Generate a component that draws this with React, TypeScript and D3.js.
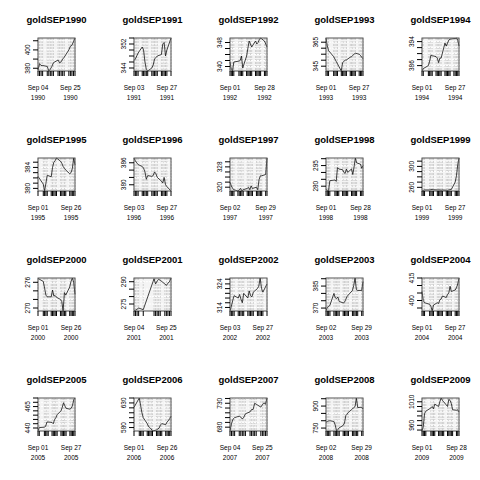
import React, { useEffect, useRef } from "react";
import * as d3 from "d3";

// one panel per September
const years = [1990, 1991, 1992, 1993, 1994, 1995, 1996, 1997, 1998, 1999, 2000, 2001, 2002, 2003, 2004, 2005, 2006, 2007, 2008, 2009];

// US market closures falling on weekdays in September
const closedDays = [
  "1990-09-03", "1991-09-02", "1992-09-07", "1993-09-06", "1994-09-05",
  "1995-09-04", "1996-09-02", "1997-09-01", "1998-09-07", "1999-09-06",
  "2000-09-04", "2001-09-03", "2001-09-11", "2001-09-12", "2001-09-13",
  "2001-09-14", "2002-09-02", "2003-09-01", "2004-09-06", "2005-09-05",
  "2006-09-04", "2007-09-03", "2008-09-01", "2009-09-07",
];

const gold1990 = [378, 385, 383, 383, 382, 377, 379, 382, 386, 389, 386, 387, 390, 392, 400, 404, 405, 409, 413];
const gold1991 = [346.5, 347, 348, 349, 351, 350, 346, 343.5, 343, 344, 345, 347, 347.5, 348, 348.5, 352, 352.5, 348, 350, 354];
const gold1992 = [341.5, 339, 338.5, 341.5, 341.8, 342, 343.5, 339.5, 343.5, 346, 348.5, 347.5, 346.5, 348.5, 347.5, 348, 349, 349.5, 348.5, 347.5, 346.5];
const gold1993 = [368.5, 362, 358, 353, 351, 349, 347, 341, 348, 349, 350, 350.2, 352.5, 353, 354, 355, 355.8, 355, 354, 352.5, 351.2];
const gold1994 = [384.2, 385, 386, 387.5, 389.5, 389.3, 389, 388.5, 387, 388.5, 388.5, 393.5, 392.5, 393.5, 394.5, 394.8, 395, 395, 395.2, 394.5, 392.5];
const gold1995 = [382.3, 380.8, 379.5, 381, 382.5, 382.2, 384, 385, 385.3, 385.8, 385.2, 384.8, 384.2, 383.8, 383.5, 382.8, 383, 383.8, 385.8, 384.5];
const gold1996 = [387.3, 386.5, 386, 385.5, 385, 384.5, 383.5, 381.5, 382.5, 382.3, 382.5, 383.5, 383, 382, 381, 380.5, 382, 380, 379.5, 378.3];
const gold1997 = [322, 320.5, 319.5, 319, 318.5, 319, 319.5, 318.5, 319, 319.5, 320, 319, 320.5, 319.5, 320, 319, 323, 324.5, 324.5, 325, 331.5];
const gold1998 = [277.5, 277, 276.5, 284, 284.5, 283.5, 293.5, 292.5, 292, 290, 289.3, 292.5, 290, 292.5, 288.5, 294, 300.5, 297, 296, 293, 295];
const gold1999 = [253, 254, 255, 255, 255.5, 256, 255.5, 255, 255, 255, 254.5, 255, 254.5, 254, 255, 255.5, 256, 270, 282, 303, 316];
const gold2000 = [276.9, 276.2, 274.6, 273, 272.6, 272.6, 274.2, 272.8, 272.9, 272.5, 272, 271.5, 269.3, 273.6, 273, 274.9, 276.2, 277, 276, 273.2];
const gold2001 = [270.3, 270.8, 271.5, 272.3, 271.2, 292, 288.5, 290.5, 291.5, 291, 288.5, 287.5, 289, 290, 292.5];
const gold2002 = [312.5, 314.5, 317, 319, 318, 319.5, 317.5, 316, 320, 318, 321, 319, 318.5, 320.5, 322, 323, 326.5, 322, 320.5, 324];
const gold2003 = [368, 370.5, 371, 372, 380, 377, 376.5, 377.5, 374.5, 373.5, 374, 376, 378, 379, 382, 385.5, 390.5, 382.5, 382, 382, 388];
const gold2004 = [406, 400, 398.5, 397.5, 396, 393, 397, 398.5, 398, 400.5, 401, 403, 402, 404, 405, 409.5, 406, 407, 408.5, 411, 415];
const gold2005 = [436.5, 440.5, 441, 442, 447, 447, 446.5, 445, 450, 452, 455.5, 460, 464, 469.5, 466, 463, 462, 463, 466, 473, 475];
const gold2006 = [621, 640, 625, 610, 600, 588, 582, 580, 577, 573, 575, 577, 579, 585, 588, 586, 591, 594, 598, 603];
const gold2007 = [672, 688, 697, 700, 703, 701, 697, 701, 708, 712, 717, 717, 730, 728, 722, 727, 731, 728, 741];
const gold2008 = [790, 795, 798, 800, 795, 770, 730, 740, 752, 768, 785, 835, 845, 858, 880, 890, 897, 955, 890, 892, 880];
const gold2009 = [948, 957, 985, 990, 997, 1000, 995, 1005, 1000, 1010, 1018, 1013, 1010, 1000, 1015, 1013, 1006, 993, 992, 993, 988];

const series = [
  gold1990, gold1991, gold1992, gold1993, gold1994, gold1995, gold1996,
  gold1997, gold1998, gold1999, gold2000, gold2001, gold2002, gold2003,
  gold2004, gold2005, gold2006, gold2007, gold2008, gold2009,
];

const yTickSteps = [10, 2, 2, 5, 2, 1, 2, 2, 5, 10, 2, 5, 2, 5, 5, 5, 10, 10, 50, 10];
const yTickLabels = [
  [380, 400], [344, 352], [340, 348], [345, 365], [386, 394],
  [380, 384], [380, 386], [320, 328], [280, 295], [260, 300],
  [270, 276], [275, 290], [314, 324], [370, 385], [400, 415],
  [440, 465], [580, 630], [680, 730], [750, 900], [960, 1010],
];

const font = "'Liberation Sans', Arial, Helvetica, sans-serif";
const fmtDay = d3.utcFormat("%Y-%m-%d");

function tradingDays(year) {
  return d3
    .utcDays(new Date(Date.UTC(year, 8, 1)), new Date(Date.UTC(year, 9, 1)))
    .filter((d) => d.getUTCDay() !== 0 && d.getUTCDay() !== 6)
    .filter((d) => !closedDays.includes(fmtDay(d)));
}

export default function App() {
  const svgRef = useRef(null);

  useEffect(() => {
    const svg = d3.select(svgRef.current);
    svg.selectAll("*").remove();

    const w = 37;
    const h = 33;

    years.forEach((year, i) => {
      const col = i % 5;
      const row = Math.floor(i / 5);
      const left = 38 + col * 96;
      const top = 38 + row * 120;
      const values = series[i];
      const dates = tradingDays(year);
      const data = dates.map((d, k) => ({ date: d, value: values[k] }));

      const x = d3
        .scaleUtc()
        .domain([dates[0], dates[dates.length - 1]])
        .range([left, left + w]);
      const y = d3
        .scaleLinear()
        .domain(d3.extent(values))
        .range([top + h, top]);

      const step = yTickSteps[i];
      const [lo, hi] = y.domain();
      const yTicks = d3.range(Math.ceil(lo / step) * step, hi + 1e-9, step);

      const g = svg.append("g");

      g.append("rect")
        .attr("x", left)
        .attr("y", top)
        .attr("width", w)
        .attr("height", h)
        .attr("fill", "#f4f4f4");

      // dotted grid: one vertical per trading day, horizontals at y ticks
      g.selectAll(".vgrid")
        .data(dates)
        .enter()
        .append("line")
        .attr("x1", (d) => x(d))
        .attr("x2", (d) => x(d))
        .attr("y1", top)
        .attr("y2", top + h)
        .attr("stroke", "#cfcfcf")
        .attr("stroke-dasharray", "2,1");

      g.selectAll(".hgrid")
        .data(yTicks)
        .enter()
        .append("line")
        .attr("x1", left)
        .attr("x2", left + w)
        .attr("y1", (v) => y(v))
        .attr("y2", (v) => y(v))
        .attr("stroke", "#ffffff")
        .attr("stroke-dasharray", "2,1");

      g.append("path")
        .datum(data)
        .attr("fill", "none")
        .attr("stroke", "#111")
        .attr("stroke-width", 0.8)
        .attr(
          "d",
          d3
            .line()
            .x((d) => x(d.date))
            .y((d) => y(d.value))
        );

      g.append("rect")
        .attr("x", left)
        .attr("y", top)
        .attr("width", w)
        .attr("height", h)
        .attr("fill", "none")
        .attr("stroke", "#555")
        .attr("stroke-width", 1);

      // day ticks under the box
      g.selectAll(".xtick")
        .data(dates)
        .enter()
        .append("line")
        .attr("x1", (d) => x(d))
        .attr("x2", (d) => x(d))
        .attr("y1", top + h)
        .attr("y2", top + h + 5)
        .attr("stroke", "#000");

      g.selectAll(".ytick")
        .data(yTicks)
        .enter()
        .append("line")
        .attr("x1", left - 5)
        .attr("x2", left)
        .attr("y1", (v) => y(v))
        .attr("y2", (v) => y(v))
        .attr("stroke", "#000");

      g.selectAll(".ylab")
        .data(yTickLabels[i])
        .enter()
        .append("text")
        .attr("transform", (v) => `translate(${left - 8.5},${y(v)}) rotate(-90)`)
        .attr("text-anchor", "middle")
        .attr("font-family", font)
        .attr("font-size", 6.5)
        .text((v) => v);

      // date labels, dropped when they would crowd the previous one
      let lastX = -Infinity;
      dates.forEach((d) => {
        const px = x(d);
        if (px - lastX < 32.2) return;
        lastX = px;
        const t = g
          .append("text")
          .attr("text-anchor", "middle")
          .attr("font-family", font)
          .attr("font-size", 6.5);
        t.append("tspan")
          .attr("x", px)
          .attr("y", top + h + 18.5)
          .text(d3.utcFormat("%b %d")(d));
        t.append("tspan")
          .attr("x", px)
          .attr("y", top + h + 28.5)
          .text(d3.utcFormat("%Y")(d));
      });

      g.append("text")
        .attr("x", left + w / 2)
        .attr("y", top - 15.5)
        .attr("text-anchor", "middle")
        .attr("font-family", font)
        .attr("font-weight", "bold")
        .attr("font-size", 9.5)
        .text(`goldSEP${year}`);
    });
  }, []);

  return (
    <svg
      ref={svgRef}
      width={480}
      height={480}
      style={{ position: "absolute", left: 0, top: 0, background: "#fff" }}
    ></svg>
  );
}
